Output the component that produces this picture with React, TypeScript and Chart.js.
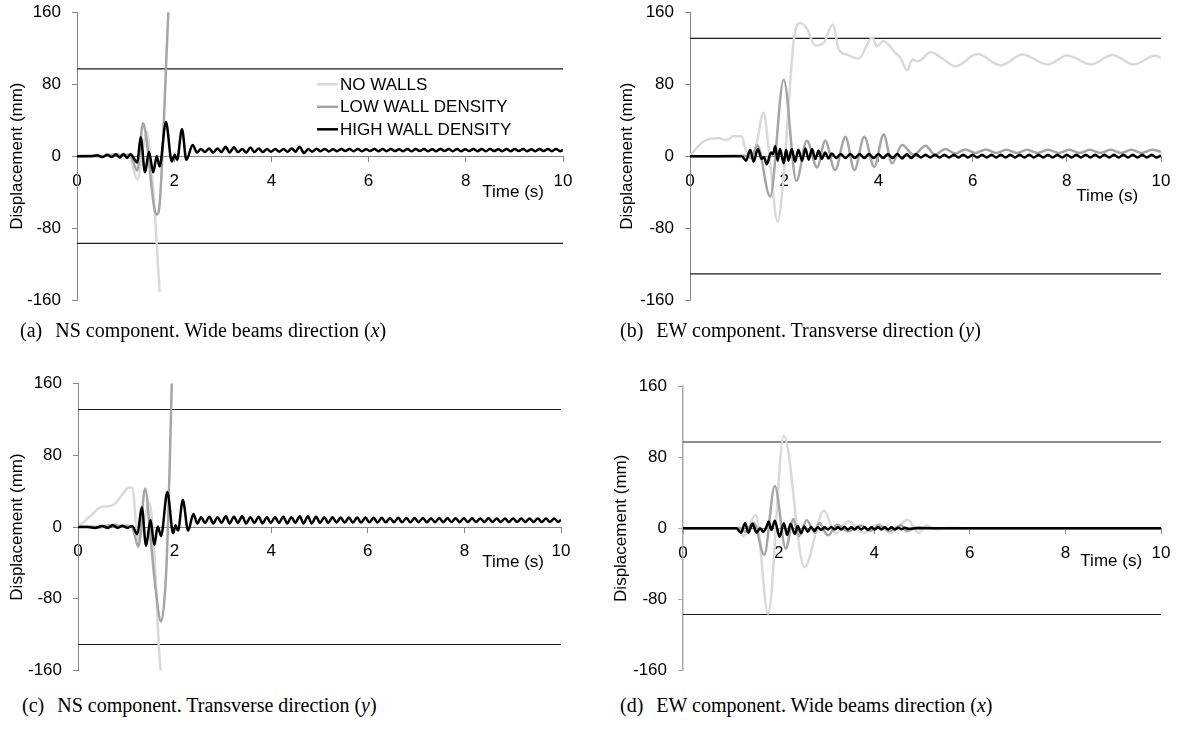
import React, { useEffect, useRef } from "react";
import { Chart, registerables } from "chart.js";

Chart.register(...registerables);
Chart.defaults.font.family = "'Liberation Sans', Arial, Helvetica, sans-serif";
Chart.defaults.font.size = 17;
Chart.defaults.color = "#000";

type Pt = [number, number];

// Axis ticks and legend
const TIME_TICKS = [0, 2, 4, 6, 8, 10];
const DISP_TICKS = [-160, -80, 0, 80, 160];
const SERIES_NAMES = ["NO WALLS", "LOW WALL DENSITY", "HIGH WALL DENSITY"];
const SERIES_COLORS = ["#d9d9d9", "#a5a5a5", "#000000"];

// Displacement limits (mm)
const LIMIT_WIDE_BEAMS = 97;
const LIMIT_TRANSVERSE = 131;

// (a) NS component, wide beams direction (x): [time s, displacement mm]
const A_NO: Pt[] = [[0,0],[0.3,0.5],[0.5,0],[0.65,1],[0.8,2],[0.9,0.5],[1.0,1.5],[1.1,-2],[1.24,-26],[1.44,27],[1.52,-8],[1.58,-45],[1.64,-97],[1.7,-151]];
const A_LOW: Pt[] = [[0,0],[0.3,0.5],[0.5,-0.5],[0.65,1],[0.8,2],[0.95,0.5],[1.05,1.5],[1.12,-1],[1.24,-16],[1.36,36.5],[1.46,5],[1.53,-32],[1.59,-58],[1.64,-65],[1.7,-54],[1.77,16],[1.83,97],[1.88,161],[1.91,200]];
const A_HIGH: Pt[] = [[0,0],[0.3,0],[0.42,1],[0.52,-1],[0.62,1.5],[0.72,-1],[0.8,2],[0.88,-1.5],[0.96,2.5],[1.03,-2],[1.1,2],[1.24,-7],[1.31,21],[1.4,-18],[1.48,5],[1.57,-18],[1.64,0],[1.7,-11.5],[1.83,38],[1.95,-6],[2.01,1.5],[2.06,-4],[2.16,30],[2.25,-4],[2.38,12.5],
  [2.47,4],[2.55,8],[2.63,4.5],[2.72,8.5],[2.8,4],[2.89,8.5],[2.97,4.5],[3.06,10.5],[3.14,4],[3.23,10],[3.31,4.5],[3.4,8],[3.48,4],[3.57,9.5],[3.65,4.5],[3.74,8.5],[3.82,4.5],[3.91,8],[3.99,5],[4.08,8],[4.16,5],[4.25,8],[4.33,5],[4.42,8.5],[4.5,5],[4.58,10.5],[4.67,3.5],[4.76,8],[4.84,5],[4.93,8.2],[5.01,5.5],[5.1,8],[5.18,5.3],[5.27,7.8],[5.35,5.5],[5.44,8],[5.52,5.6],[5.61,7.9],[5.69,5.4],[5.78,8],[5.86,5.5],[5.95,7.8],[6.03,5.6],[6.12,8],[6.2,5.4],[6.29,7.9],[6.37,5.5],[6.46,8],[6.54,5.6],[6.63,7.8],[6.71,5.5],[6.8,8],[6.88,5.4],[6.97,7.9],[7.05,5.6],[7.14,8],[7.22,5.5],[7.31,7.8],[7.39,5.5],[7.48,8],[7.56,5.6],[7.65,7.9],[7.73,5.4],[7.82,8],[7.9,5.5],[7.99,7.8],[8.07,5.6],[8.16,8],[8.24,5.5],[8.33,7.9],[8.41,5.4],[8.5,8],[8.58,5.6],[8.67,7.8],[8.75,5.5],[8.84,8],[8.92,5.5],[9.01,7.9],[9.09,5.6],[9.18,8],[9.26,5.4],[9.35,7.8],[9.43,5.5],[9.52,8],[9.6,5.6],[9.69,7.9],[9.77,5.5],[9.86,8],[9.94,5.5],[10,7]];

// (b) EW component, transverse direction (y)
const B_NO: Pt[] = [[0,0],[0.14,9],[0.28,16],[0.43,19.5],[0.6,20],[0.78,18],[0.92,22],[1.1,22],[1.17,9],[1.24,1.5],[1.31,0],[1.42,16],[1.56,48.5],[1.67,9],[1.86,-73],[1.99,-21],[2.09,53],[2.2,128],[2.34,148],[2.48,142],[2.66,123],[2.84,126],[3.03,146.5],[3.16,118.5],[3.33,113],[3.58,108.5],[3.87,132],[3.97,122],[4.1,128],[4.36,115],[4.47,109],[4.61,95.5],[4.72,107.5],[4.84,105.5],[5.11,115.5],[5.32,110],[5.64,100],[6.1,113.5],[6.6,101],[7.06,113],[7.59,102],[8.01,112],[8.51,102],[8.97,112.5],[9.42,102],[9.88,112],[10,109]];
const B_LOW: Pt[] = [[0,0],[0.5,0],[0.9,0.5],[1.2,0.5],[1.3,-2],[1.43,12],[1.7,-45],[1.99,85],[2.26,-27.5],[2.48,17],[2.7,-12.5],[2.87,17],[3.08,-15.5],[3.3,21.5],[3.49,-15.5],[3.7,21.5],[3.91,-12],[4.11,24],[4.29,-8],[4.5,12.5],[4.75,1.5],[5.0,11.5],[5.2,1.5],[5.42,8],[5.63,3],[5.85,7.5],[6.06,3.5],[6.28,7.5],[6.5,3.5],[6.72,7],[6.94,3.5],[7.16,7],[7.38,3.5],[7.6,7],[7.83,3.5],[8.05,7],[8.27,3.5],[8.49,7],[8.71,3.5],[8.93,7],[9.15,3.5],[9.37,7],[9.59,3.5],[9.81,7],[10,5]];
const B_HIGH: Pt[] = [[0,0],[1.1,0],[1.19,-5],[1.28,7],[1.35,-6],[1.44,8],[1.52,-3],[1.57,-1],[1.63,-9],[1.72,4],[1.76,2],[1.81,11],[1.86,-5],[1.91,8],[1.99,-8],[2.04,7],[2.09,-5],[2.16,8],[2.23,-6],[2.3,7],[2.38,-5],[2.45,8.5],[2.52,-4],[2.59,8],[2.66,-3],[2.73,6],[2.8,-3],[2.87,4],[2.94,-2.5],[3.01,3],[3.1,-2],[3.2,2.5],[3.3,-2],[3.4,2.5],[3.5,-2],[3.6,2.5],[3.7,-2],[3.8,2.5],[3.9,-2],[4.0,2.5],[4.1,-2],[4.2,2],[4.3,-2],[4.4,2.5],[4.5,-2.5],[4.6,2],[4.7,-2],[4.8,2],[4.9,-1.5],[5.0,1.5],
  [5.1,-1.5],[5.2,1.5],[5.3,-1.5],[5.4,1.5],[5.5,-1.5],[5.6,1.5],[5.7,-1.5],[5.8,1.5],[5.9,-1.5],[6.0,1.5],[6.1,-1.5],[6.2,1.5],[6.3,-1.5],[6.4,1.5],[6.5,-1.5],[6.6,1.5],[6.7,-1.5],[6.8,1.5],[6.9,-1.5],[7.0,1.5],[7.1,-1.5],[7.2,1.5],[7.3,-1.5],[7.4,1.5],[7.5,-1.5],[7.6,1.5],[7.7,-1.5],[7.8,1.5],[7.9,-1.5],[8.0,1.5],[8.1,-1.5],[8.2,1.5],[8.3,-1.5],[8.4,1.5],[8.5,-1.5],[8.6,1.5],[8.7,-1.5],[8.8,1.5],[8.9,-1.5],[9.0,1.5],[9.1,-1.5],[9.2,1.5],[9.3,-1.5],[9.4,1.5],[9.5,-1.5],[9.6,1.5],[9.7,-1.5],[9.8,1.5],[9.9,-1.5],[10,0.5]];

// (c) NS component, transverse direction (y)
const C_NO: Pt[] = [[0,0],[0.17,8],[0.31,15],[0.45,21.5],[0.59,23],[0.73,24.5],[0.91,35.5],[1.05,44],[1.13,43],[1.2,5],[1.26,-16],[1.36,5],[1.48,27],[1.55,-5],[1.62,-70],[1.67,-130],[1.71,-161],[1.73,-180]];
const C_LOW: Pt[] = [[0,0],[0.3,0.5],[0.45,-0.5],[0.6,1.5],[0.75,2.5],[0.9,0.5],[1.02,1.5],[1.12,0],[1.25,-22],[1.39,43],[1.5,-11],[1.6,-66],[1.72,-105.5],[1.81,-66],[1.86,-3],[1.9,71],[1.94,157],[1.96,200]];
const C_HIGH: Pt[] = [[0,0],[0.2,0],[0.35,-1],[0.5,1],[0.62,-1],[0.72,2],[0.82,-1],[0.92,1.5],[1.02,-1],[1.12,1],[1.23,-8],[1.32,22],[1.41,-21],[1.5,8],[1.58,-20],[1.65,0.5],[1.72,-10],[1.85,39],[1.97,-7],[2.02,2],[2.07,-4],[2.17,30],[2.28,-4],[2.39,14.5],[2.47,4],
  [2.55,11],[2.63,4.5],[2.72,11.5],[2.8,4],[2.89,11],[2.97,4.5],[3.06,12],[3.14,4],[3.23,11.5],[3.31,4.5],[3.4,12],[3.48,4],[3.57,11],[3.65,4.5],[3.74,11.5],[3.82,4],[3.91,11],[3.99,4.5],[4.08,11],[4.16,4.5],[4.25,11.5],[4.33,4],[4.42,11],[4.5,4.5],[4.59,12],[4.67,4],[4.76,12],[4.84,4],[4.93,11.5],[5.01,4.5],[5.1,11],[5.18,4.5],[5.27,11],[5.35,5],[5.44,10.5],[5.52,5],[5.61,10.5],[5.69,5],[5.78,10.5],[5.86,5],[5.95,10.5],[6.03,5.2],[6.12,10.2],[6.2,5],[6.29,10.3],[6.37,5.2],[6.46,10],[6.54,5.2],[6.63,10.2],[6.71,5.3],[6.8,10],[6.88,5.2],[6.97,10],[7.05,5.4],[7.14,10],[7.22,5.3],[7.31,9.8],[7.39,5.4],[7.48,10],[7.56,5.4],[7.65,9.8],[7.73,5.5],[7.82,9.8],[7.9,5.4],[7.99,9.7],[8.07,5.5],[8.16,9.8],[8.24,5.5],[8.33,9.6],[8.41,5.5],[8.5,9.7],[8.58,5.6],[8.67,9.6],[8.75,5.5],[8.84,9.6],[8.92,5.6],[9.01,9.5],[9.09,5.6],[9.18,9.6],[9.26,5.5],[9.35,9.5],[9.43,5.6],[9.52,9.5],[9.6,5.6],[9.69,9.5],[9.77,5.6],[9.86,9.4],[9.94,5.7],[10,8]];

// (d) EW component, wide beams direction (x)
const D_NO: Pt[] = [[0,0],[1.1,0],[1.18,1],[1.26,-9],[1.52,15],[1.78,-96],[2.11,104],[2.54,-44],[2.95,20],[3.19,-6],[3.46,8],[3.78,-5],[4.1,4.5],[4.33,-5],[4.7,9.7],[4.92,-5],[5.1,3],[5.3,-1],[5.6,0.5],[6,0],[10,0]];
const D_LOW: Pt[] = [[0,0],[1.2,0],[1.3,-4],[1.48,6],[1.7,-30],[1.92,47.5],[2.15,-23],[2.31,10.5],[2.42,-9],[2.59,9],[2.76,-5],[2.85,6],[3.03,-8],[3.23,4],[3.46,-3.4],[3.73,3],[3.93,-3],[4.09,3],[4.32,-3],[4.57,3.4],[4.67,-3.4],[4.9,1],[5.2,0],[10,0]];
const D_HIGH: Pt[] = [[0,0],[1.12,0],[1.21,-5],[1.3,5.5],[1.37,-5],[1.45,5],[1.54,-5],[1.61,0],[1.68,-4],[1.75,2],[1.79,7.5],[1.85,-2],[1.92,8.5],[2.02,-9.5],[2.11,5.5],[2.18,-7.5],[2.25,5],[2.34,-6.5],[2.4,2.5],[2.47,-5.5],[2.54,2],[2.61,-4],[2.68,1.5],[2.75,-3],[2.82,1.5],[2.89,-2],[2.96,1],[3.03,-1.5],[3.1,1.5],[3.17,-1.5],[3.24,1],[3.31,-1.5],[3.38,1.5],[3.45,-1.5],[3.52,1],[3.59,-1.5],[3.66,1.5],[3.73,-1.5],[3.8,1],[3.87,-2],[3.94,1],[4.01,-1.5],[4.08,1],[4.15,-1.5],[4.22,1],[4.29,-1.5],[4.36,1],[4.43,-1.5],[4.5,0.5],[4.57,-1],[4.64,0.5],[4.71,-0.5],[4.9,0],[10,0]];

type PanelCfg = {
  left: number; top: number; width: number; height: number;
  padTop: number; padBottom: number; padRight: number;
  axisWidth: number; titlePad: number; axisColor: string; axisWidthPx: number;
  timeDx: number; timeDy: number; limit: number; legend: boolean;
  series: Pt[][];
};

const PANELS: PanelCfg[] = [
  { left: 0, top: 0, width: 590, height: 320, padTop: 12.3, padBottom: 20, padRight: 27, axisWidth: 77, titlePad: 7, axisColor: "#868686", axisWidthPx: 1, timeDx: 19, timeDy: 36, limit: LIMIT_WIDE_BEAMS, legend: true, series: [A_NO, A_LOW, A_HIGH] },
  { left: 590, top: 0, width: 590, height: 320, padTop: 12.3, padBottom: 20, padRight: 16, axisWidth: 100, titlePad: 27, axisColor: "#868686", axisWidthPx: 1, timeDx: 23, timeDy: 40, limit: LIMIT_TRANSVERSE, legend: false, series: [B_NO, B_LOW, B_HIGH] },
  { left: 0, top: 366, width: 590, height: 320, padTop: 17.5, padBottom: 15.5, padRight: 29, axisWidth: 78, titlePad: 7, axisColor: "#868686", axisWidthPx: 1, timeDx: 17, timeDy: 35, limit: LIMIT_TRANSVERSE, legend: false, series: [C_NO, C_LOW, C_HIGH] },
  { left: 590, top: 366, width: 590, height: 320, padTop: 20, padBottom: 15.5, padRight: 15, axisWidth: 93, titlePad: 21, axisColor: "#a8a8a8", axisWidthPx: 1.5, timeDx: 19, timeDy: 33, limit: LIMIT_WIDE_BEAMS, legend: false, series: [D_NO, D_LOW, D_HIGH] },
];

const CAPTIONS = [
  { tag: "(a)", text: "NS component. Wide beams direction (", dir: "x", left: 20, top: 318 },
  { tag: "(b)", text: "EW component. Transverse direction (", dir: "y", left: 620, top: 318 },
  { tag: "(c)", text: "NS component. Transverse direction (", dir: "y", left: 22, top: 693 },
  { tag: "(d)", text: "EW component. Wide beams direction (", dir: "x", left: 620, top: 693 },
];

const FONT = "17px 'Liberation Sans', Arial, Helvetica, sans-serif";

function Panel({ cfg }: { cfg: PanelCfg }) {
  const ref = useRef<HTMLCanvasElement>(null);

  useEffect(() => {
    const canvas = ref.current;
    if (!canvas) return;

    const seriesSets = cfg.series.map((pts, i) => ({
      label: SERIES_NAMES[i],
      data: pts.map(([x, y]) => ({ x, y })),
      borderColor: SERIES_COLORS[i],
      backgroundColor: SERIES_COLORS[i],
      borderWidth: 2.5,
      pointRadius: 0,
      fill: false,
      cubicInterpolationMode: "monotone" as const,
      order: 3 - i,
    }));
    const limitSets = [cfg.limit, -cfg.limit].map((v) => ({
      label: "",
      data: [{ x: 0, y: v }, { x: 10, y: v }],
      borderColor: "#1a1a1a",
      borderWidth: 1.2,
      pointRadius: 0,
      fill: false,
      order: 5,
    }));

    const notes = {
      id: "notes",
      afterDraw(chart: any) {
        const { ctx, chartArea, scales } = chart;
        const y0 = scales.y.getPixelForValue(0);
        ctx.save();
        ctx.font = FONT;
        ctx.fillStyle = "#000";
        ctx.textBaseline = "middle";
        ctx.textAlign = "right";
        ctx.fillText("Time (s)", chartArea.right - cfg.timeDx, y0 + cfg.timeDy);
        if (cfg.legend) {
          ctx.textAlign = "left";
          const lx = chartArea.left + 240;
          SERIES_NAMES.forEach((name, i) => {
            const ly = chartArea.top + 72 + i * 22.5;
            ctx.strokeStyle = SERIES_COLORS[i];
            ctx.lineWidth = 2.5;
            ctx.beginPath();
            ctx.moveTo(lx, ly);
            ctx.lineTo(lx + 21, ly);
            ctx.stroke();
            ctx.fillText(name, lx + 23, ly + 1);
          });
        }
        ctx.restore();
      },
    };

    const chart = new Chart(canvas, {
      type: "line",
      data: { datasets: [...seriesSets, ...limitSets] as any },
      options: {
        animation: false,
        responsive: false,
        devicePixelRatio: 1,
        events: [],
        layout: { padding: { left: 0, top: cfg.padTop, right: cfg.padRight, bottom: cfg.padBottom } },
        plugins: { legend: { display: false }, tooltip: { enabled: false } },
        scales: {
          x: {
            type: "linear",
            min: 0,
            max: 10,
            position: { y: 0 } as any,
            afterFit: (s: any) => { s.height = 0; },
            afterBuildTicks: (s: any) => { s.ticks = TIME_TICKS.map((value) => ({ value })); },
            grid: { drawOnChartArea: false, drawTicks: true, tickLength: 5, color: "#868686" },
            border: { color: "#868686", width: 1 },
            ticks: { padding: 9.5, color: "#000", maxRotation: 0, autoSkip: false, font: { size: 17 } },
          },
          y: {
            type: "linear",
            min: -160,
            max: 160,
            position: "left",
            afterFit: (s: any) => {
              s.width = cfg.axisWidth;
              // keep the plot box fixed by the layout padding alone
              s.paddingTop = 0;
              s.paddingBottom = 0;
            },
            afterBuildTicks: (s: any) => { s.ticks = DISP_TICKS.map((value) => ({ value })); },
            grid: { drawOnChartArea: false, drawTicks: true, tickLength: 5, color: cfg.axisColor },
            border: { color: cfg.axisColor, width: cfg.axisWidthPx },
            ticks: { padding: 11, color: "#000", font: { size: 17 } },
            title: {
              display: true,
              text: "Displacement (mm)",
              color: "#000",
              font: { size: 17 },
              padding: { top: cfg.titlePad, bottom: 0 },
            },
          },
        },
      },
      plugins: [notes],
    });

    return () => chart.destroy();
  }, [cfg]);

  return (
    <canvas
      ref={ref}
      width={cfg.width}
      height={cfg.height}
      style={{ position: "absolute", left: cfg.left, top: cfg.top, width: cfg.width, height: cfg.height }}
    />
  );
}

export default function App() {
  return (
    <div style={{ position: "fixed", left: 0, top: 0, width: 1180, height: 732, background: "#fff", overflow: "hidden" }}>
      {PANELS.map((p, i) => (
        <Panel key={i} cfg={p} />
      ))}
      {CAPTIONS.map((c, i) => (
        <div
          key={i}
          style={{
            position: "absolute",
            left: c.left,
            top: c.top,
            fontFamily: "'Liberation Serif', 'Times New Roman', serif",
            fontSize: 20,
            lineHeight: "24px",
            whiteSpace: "nowrap",
            color: "#000",
          }}
        >
          <span style={{ marginRight: 13 }}>{c.tag}</span>
          {c.text}
          <i>{c.dir}</i>)
        </div>
      ))}
    </div>
  );
}
